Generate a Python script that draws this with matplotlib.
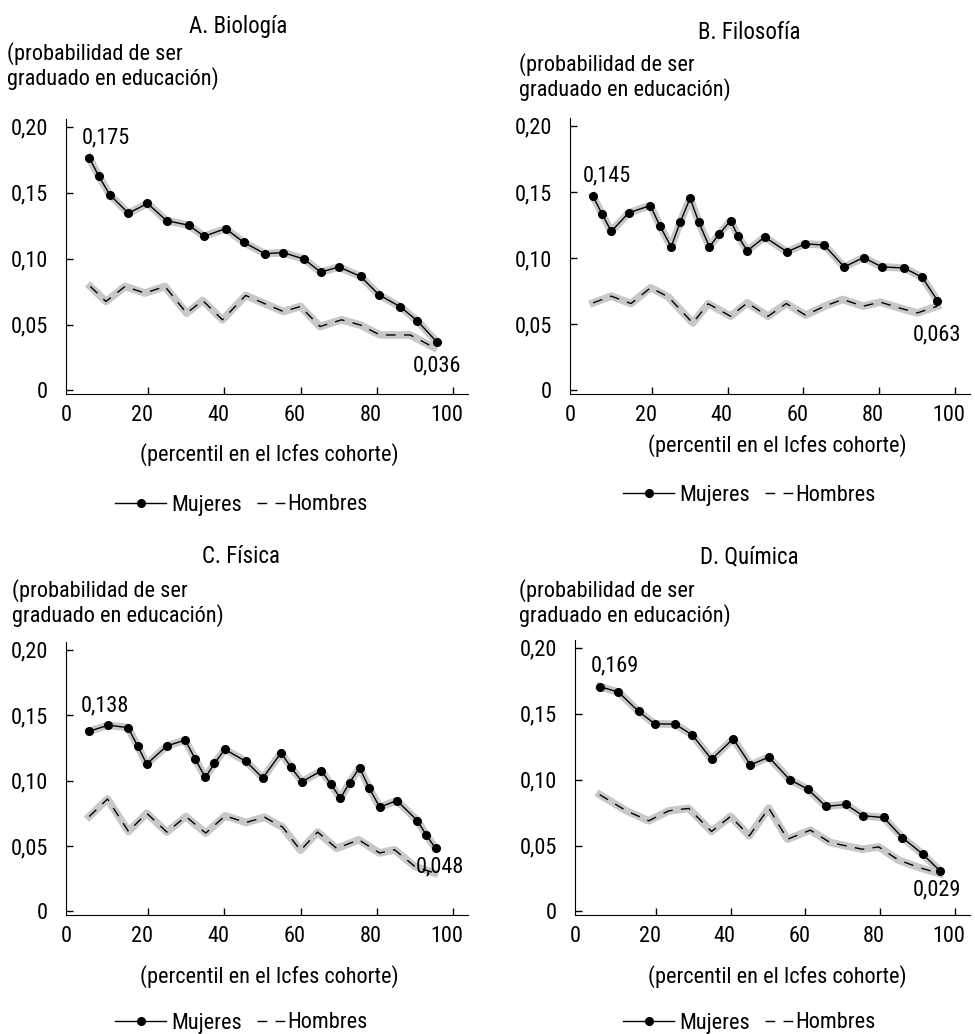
import matplotlib
matplotlib.use("Agg")
import matplotlib.pyplot as plt
from matplotlib.transforms import ScaledTranslation

plt.rcParams['font.family'] = ['Nimbus Sans Narrow', 'Roboto Condensed',
                               'Archivo Narrow', 'Liberation Sans Narrow',
                               'DejaVu Sans']
plt.rcParams['font.size'] = 16

# ---------------------------------------------------------------------------
# Data (percentile in Icfes cohort, probability)
# ---------------------------------------------------------------------------
bio_x_m = [4.5, 7.0, 9.9, 14.8, 19.8, 24.8, 30.6, 34.7, 40.3, 45.1, 50.6, 55.5,
           60.9, 65.3, 70.1, 75.8, 80.6, 86.2, 90.7, 95.8]
bio_y_m = [0.1766, 0.1627, 0.1485, 0.1345, 0.1419, 0.1289, 0.1254, 0.1170,
           0.1228, 0.1124, 0.1038, 0.1046, 0.0997, 0.0898, 0.0937, 0.0865,
           0.0726, 0.0635, 0.0528, 0.0368]
bio_x_h = [4.8, 8.9, 13.9, 19.1, 24.4, 30.1, 34.3, 39.5, 45.6, 50.5, 55.5, 60.0,
           65.1, 70.8, 75.7, 80.9, 85.0, 88.8, 95.0]
bio_y_h = [0.0789, 0.0675, 0.0789, 0.0739, 0.0789, 0.0586, 0.0683, 0.0536,
           0.0721, 0.0660, 0.0599, 0.0637, 0.0485, 0.0536, 0.0497, 0.0421,
           0.0421, 0.0421, 0.0327]

fil_x_m = [4.5, 6.9, 9.3, 13.9, 19.6, 22.2, 25.1, 27.5, 30.1, 32.4, 35.2, 37.8,
           40.8, 42.8, 45.2, 49.8, 55.7, 60.5, 65.5, 70.8, 75.9, 80.7, 86.6,
           91.4, 95.4]
fil_y_m = [0.1467, 0.1332, 0.1203, 0.1343, 0.1398, 0.1241, 0.1086, 0.1272,
           0.1454, 0.1272, 0.1086, 0.1183, 0.1284, 0.1165, 0.1056, 0.1160,
           0.1048, 0.1109, 0.1099, 0.0934, 0.1005, 0.0934, 0.0926, 0.0855,
           0.0680]
fil_x_h = [4.5, 9.3, 14.5, 19.7, 24.4, 30.8, 34.9, 40.8, 45.2, 50.7, 55.5, 60.6,
           65.6, 70.4, 75.8, 80.3, 85.3, 90.1, 95.4]
fil_y_h = [0.0662, 0.0713, 0.0657, 0.0777, 0.0706, 0.0510, 0.0655, 0.0561,
           0.0662, 0.0561, 0.0657, 0.0569, 0.0637, 0.0688, 0.0637, 0.0668,
           0.0624, 0.0586, 0.0637]

fis_x_m = [4.5, 9.5, 14.7, 17.2, 19.6, 24.9, 29.7, 32.3, 35.0, 37.4, 40.1, 45.7,
           50.1, 54.9, 57.5, 60.4, 65.5, 68.0, 70.5, 72.9, 75.5, 78.0, 80.8,
           85.3, 90.7, 93.0, 95.5]
fis_y_m = [0.1378, 0.1424, 0.1406, 0.1266, 0.1127, 0.1266, 0.1310, 0.1168,
           0.1025, 0.1132, 0.1239, 0.1147, 0.1020, 0.1213, 0.1102, 0.0992,
           0.1076, 0.0972, 0.0865, 0.0985, 0.1099, 0.0947, 0.0797, 0.0848,
           0.0695, 0.0586, 0.0482]
fis_x_h = [4.5, 9.3, 14.8, 19.6, 24.9, 29.9, 35.1, 40.2, 45.7, 50.5, 55.3, 60.0,
           64.5, 69.5, 75.3, 80.8, 84.7, 90.0, 95.2]
fis_y_h = [0.0726, 0.0860, 0.0612, 0.0751, 0.0607, 0.0726, 0.0599, 0.0731,
           0.0680, 0.0721, 0.0645, 0.0467, 0.0607, 0.0482, 0.0548, 0.0447,
           0.0472, 0.0345, 0.0294]

qui_x_m = [5.0, 10.0, 15.4, 19.7, 25.2, 29.8, 34.9, 40.7, 45.3, 50.2, 55.8, 60.6,
           65.5, 70.8, 75.4, 80.9, 85.9, 91.4, 96.0]
qui_y_m = [0.1706, 0.1665, 0.1518, 0.1424, 0.1421, 0.1338, 0.1155, 0.1310,
           0.1112, 0.1171, 0.1000, 0.0929, 0.0797, 0.0812, 0.0726, 0.0713,
           0.0561, 0.0434, 0.0307]
qui_x_h = [5.0, 12.1, 18.1, 23.5, 28.8, 34.9, 40.0, 45.0, 50.2, 55.2, 61.3, 66.6,
           75.2, 79.6, 84.8, 90.5, 96.0]
qui_y_h = [0.0886, 0.0764, 0.0688, 0.0764, 0.0782, 0.0607, 0.0721, 0.0574,
           0.0784, 0.0548, 0.0617, 0.0523, 0.0472, 0.0490, 0.0391, 0.0332,
           0.0287]

titles = ["A. Biología", "B. Filosofía", "C. Física", "D. Química"]
start_labels = ["0,175", "0,145", "0,138", "0,169"]
end_labels = ["0,036", "0,063", "0,048", "0,029"]
y_ticks = [0, 0.05, 0.10, 0.15, 0.20]
y_ticklabels = ["0", "0,05", "0,10", "0,15", "0,20"]
x_ticks = [0, 20, 40, 60, 80, 100]

panels = [
    (bio_x_m, bio_y_m, bio_x_h, bio_y_h),
    (fil_x_m, fil_y_m, fil_x_h, fil_y_h),
    (fis_x_m, fis_y_m, fis_x_h, fis_y_h),
    (qui_x_m, qui_y_m, qui_x_h, qui_y_h),
]

# ---------------------------------------------------------------------------
# Layout (pixel positions taken from the 975 x 1034 reference)
# ---------------------------------------------------------------------------
W, H = 975, 1034
def fx(px): return px / W
def fy(py): return 1 - py / H

axes_px = [(66, 119, 468, 394), (570, 118, 970, 394),
           (66, 642, 468, 915), (575, 640, 970, 915)]
title_px = [(238, 33), (749, 39), (241, 563), (749, 563)]      # baseline
ylab_px = [(7, 60, 85), (519, 71, 96), (12, 597, 622), (519, 597, 622)]
xlab_px = [(269, 455), (777, 446), (269, 977), (777, 977)]
leg_px = [(115, 257, 505), (623, 765, 495), (115, 257, 1023), (623, 765, 1023)]
start_off = [(12, 14), (10, 15), (11, 18), (11, 15)]
end_off = [(0, -17), (0, -21), (3, -13), (-2, -14)]
end_from_men = [False, True, False, False]

fig = plt.figure(figsize=(W / 100, H / 100), dpi=100)
HALO = "#c8c8c8"
shift = ScaledTranslation(-6 / 100, 0, fig.dpi_scale_trans)

for i, (xm, ym, xh, yh) in enumerate(panels):
    l, t, r, b = axes_px[i]
    ax = fig.add_axes([fx(l), fy(b), fx(r) - fx(l), fy(t) - fy(b)])

    # grey bands behind the lines
    ax.plot(xm, ym, color=HALO, lw=5.5, zorder=1)
    ax.plot(xh, yh, color=HALO, lw=5.5, zorder=1)
    lm, = ax.plot(xm, ym, color='black', lw=1, marker='o', ms=5.5, zorder=3)
    lh, = ax.plot(xh, yh, color='black', lw=1, dashes=(7, 6), zorder=3)

    ax.set_xlim(-1.6, 104)
    ax.set_ylim(-0.0027, 0.206)
    ax.set_xticks(x_ticks)
    ax.set_yticks(y_ticks)
    ax.set_yticklabels(y_ticklabels)
    ax.tick_params(direction='in', length=5, width=1)
    ax.tick_params(axis='y', pad=13)
    ax.tick_params(axis='x', pad=8)
    ax.xaxis.get_major_ticks()[0].tick1line.set_visible(False)
    for lab in ax.get_xticklabels():
        lab.set_transform(lab.get_transform() + shift)
    for s in ['top', 'right']:
        ax.spines[s].set_visible(False)

    ax.annotate(start_labels[i], (xm[0], ym[0]), xytext=start_off[i],
                textcoords='offset points', ha='center', va='center')
    ex, ey = (xh[-1], yh[-1]) if end_from_men[i] else (xm[-1], ym[-1])
    ax.annotate(end_labels[i], (ex, ey), xytext=end_off[i],
                textcoords='offset points', ha='center', va='center')

    fig.text(fx(title_px[i][0]), fy(title_px[i][1]), titles[i],
             ha='center', va='baseline', fontsize=16.5)
    yl = ylab_px[i]
    fig.text(fx(yl[0]), fy(yl[1]), "(probabilidad de ser",
             ha='left', va='baseline')
    fig.text(fx(yl[0]), fy(yl[2]), "graduado en educación)",
             ha='left', va='baseline')
    fig.text(fx(xlab_px[i][0]), fy(xlab_px[i][1]),
             "(percentil en el Icfes cohorte)", ha='center', va='center')

    lx1, lx2, ly = leg_px[i]
    leg1 = ax.legend([lm], ['Mujeres'], loc='center left',
                     bbox_to_anchor=(fx(lx1), fy(ly)),
                     bbox_transform=fig.transFigure, frameon=False,
                     handlelength=2.3, handletextpad=0.25, numpoints=1,
                     borderaxespad=0, borderpad=0)
    ax.add_artist(leg1)
    ax.legend([lh], ['Hombres'], loc='center left',
              bbox_to_anchor=(fx(lx2), fy(ly)),
              bbox_transform=fig.transFigure, frameon=False,
              handlelength=1.35, handletextpad=0.0,
              borderaxespad=0, borderpad=0)

fig.savefig("out.png", dpi=100)
